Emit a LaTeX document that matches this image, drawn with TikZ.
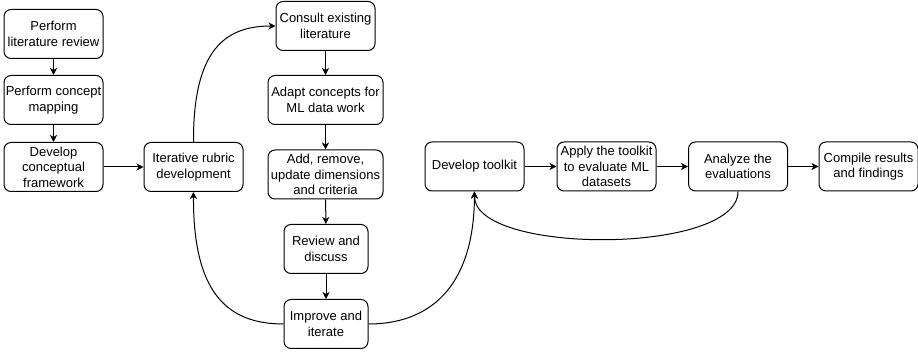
\documentclass[tikz,border=0pt]{standalone}
\usepackage{fontspec}
\setmainfont{Liberation Sans}
\usepackage{xcolor}
\usepackage{tikz}
\usetikzlibrary{arrows.meta,positioning}

\begin{document}
\begin{tikzpicture}[%
      x=1pt, y=-1pt, line width=1pt,
      stage/.style={draw, rounded corners=7pt, align=center, inner sep=0pt,
        minimum width=99pt, minimum height=49pt,
        font=\fontsize{13}{15.4}\selectfont},
      wide/.style={stage, minimum width=115pt},
      narrow/.style={stage, minimum width=84pt},
      flow/.style={-{Stealth[length=7pt,width=7pt,inset=2pt]}}]
      \useasboundingbox (0,0) rectangle (918,352);
      \node[stage] (litreview) at (53.5,34) {Perform\\literature review};
      \node[stage] (conceptmap) at (53.5,100) {Perform concept\\mapping};
      \node[stage] (framework) at (53.5,167) {Develop\\conceptual\\framework};
      \node[stage] (rubric) at (193.5,167) {Iterative rubric\\development};
      \node[stage] (consult) at (325.5,26) {Consult existing\\literature};
      \node[wide] (adapt) at (325.5,100) {Adapt concepts for\\ML data work};
      \node[wide] (update) at (325.5,174.5) {Add, remove,\\update dimensions\\and criteria};
      \node[narrow] (review) at (326,249) {Review and\\discuss};
      \node[narrow] (improve) at (326,324) {Improve and\\iterate};
      \node[stage] (toolkit) at (474.5,166.5) {Develop toolkit};
      \node[stage] (apply) at (606.5,166.5) {Apply the toolkit\\to evaluate ML\\datasets};
      \node[stage] (analyze) at (738,166.5) {Analyze the\\evaluations};
      \node[stage] (compile) at (868.5,166.5) {Compile results\\and findings};

      \draw[flow] (litreview) -- (conceptmap);
      \draw[flow] (conceptmap) -- (framework);
      \draw[flow] (framework) -- (rubric);
      \draw[flow] (consult) -- (adapt);
      \draw[flow] (adapt) -- (update);
      \draw[flow] (update) -- (review);
      \draw[flow] (review) -- (improve);
      \draw[flow] (toolkit) -- (apply);
      \draw[flow] (apply) -- (analyze);
      \draw[flow] (analyze) -- (compile);
      \draw[flow] (rubric.north) .. controls (193,50) and (225,26) .. (consult.west);
      \draw[flow] (improve.west) .. controls (225,324) and (193,290) .. (rubric.south);
      \draw[flow] (improve.east) .. controls (427,324) and (474,290) .. (toolkit.south);
      \draw[flow] (analyze.south) .. controls (738,255) and (474,255) .. (toolkit.south);
    \end{tikzpicture}
\end{document}
